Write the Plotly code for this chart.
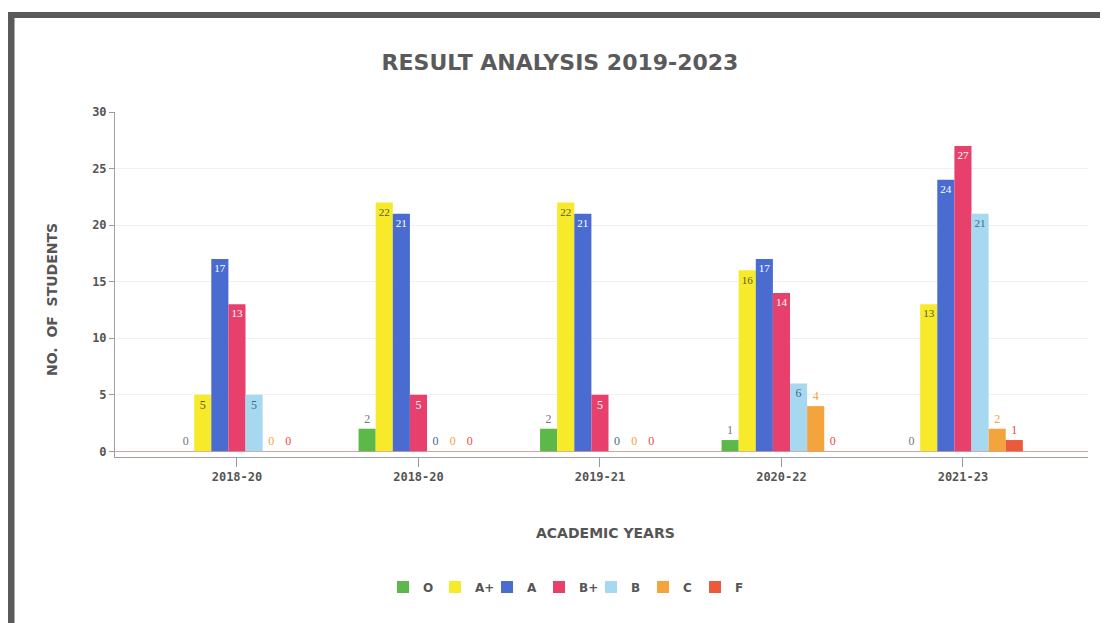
import plotly.graph_objects as go

years = ["2018-20", "2018-20", "2019-21", "2020-22", "2021-23"]
grades = ["O", "A+", "A", "B+", "B", "C", "F"]
val_O = [0, 2, 2, 1, 0]
val_Aplus = [5, 22, 22, 16, 13]
val_A = [17, 21, 21, 17, 24]
val_Bplus = [13, 5, 5, 14, 27]
val_B = [5, 0, 0, 6, 21]
val_C = [0, 0, 0, 4, 2]
val_F = [0, 0, 0, 0, 1]

series = [val_O, val_Aplus, val_A, val_Bplus, val_B, val_C, val_F]
colors = ["#5cb848", "#f7ea2a", "#4a6cd0", "#e8406c", "#a6d8f0", "#f3a43c", "#ec5a3c"]
text_colors = ["#777777", "#5a5a30", "#ffffff", "#ffffff", "#3f6a8a", "#f3a43c", "#ec4a3c"]

xpos = list(range(len(years)))

fig = go.Figure()
for name, vals, col, tcol in zip(grades, series, colors, text_colors):
    fig.add_trace(go.Bar(
        x=xpos, y=vals, name=name,
        marker=dict(color=col, line=dict(width=0)),
        text=[str(v) for v in vals],
        textposition=["inside" if v >= 5 else "outside" for v in vals],
        insidetextanchor="end",
        textangle=0,
        textfont=dict(family="Liberation Serif", size=12, color=tcol),
        cliponaxis=False,
        hoverinfo="skip",
    ))

# page body has an 8px margin, so the figure is offset by 8px
W, H = 1100, 615
L, R, T, B = 107, 20, 104, 166
PW = W - L - R
PH = H - T - B

fig.update_layout(
    width=W, height=H,
    paper_bgcolor="white", plot_bgcolor="white",
    barmode="group", bargap=0.34, bargroupgap=0.0,
    margin=dict(l=L, r=R, t=T, b=B),
    title=dict(text="<b>RESULT ANALYSIS 2019-2023</b>", x=(560 - 8) / W, xanchor="center",
               y=1 - (62 - 8) / H, yanchor="middle",
               font=dict(family="DejaVu Sans", size=22, color="#5a5a5a")),
    showlegend=True,
    legend=dict(orientation="h", x=(565 - 115) / PW, xanchor="center",
                y=(457 - 587) / PH, yanchor="middle",
                font=dict(family="DejaVu Sans", size=12, color="#555555", weight="bold"),
                itemwidth=30, entrywidth=7, entrywidthmode="pixels",
                traceorder="normal", bgcolor="rgba(0,0,0,0)"),
    font=dict(family="DejaVu Sans", color="#555555"),
)

fig.update_xaxes(
    range=[-0.672, 4.689],
    tickmode="array", tickvals=xpos, ticktext=years,
    tickfont=dict(family="DejaVu Sans Mono", size=12, color="#555555", weight="bold"),
    ticks="outside", ticklen=9, tickcolor="#999999",
    showline=True, linecolor="#a0a0a0", linewidth=1,
    showgrid=False, zeroline=False,
)
fig.update_yaxes(
    range=[-0.5, 30], tickvals=[0, 5, 10, 15, 20, 25, 30],
    tickfont=dict(family="DejaVu Sans Mono", size=12, color="#555555", weight="bold"),
    ticks="outside", ticklen=5, tickcolor="#999999",
    showline=True, linecolor="#a0a0a0", linewidth=1,
    showgrid=True, gridcolor="#f0f0f0", gridwidth=1,
    zeroline=True, zerolinecolor="#d8a0a0", zerolinewidth=1,
)

fig.add_annotation(text="<b>ACADEMIC YEARS</b>", xref="paper", yref="paper",
                   x=(605 - 115) / PW, y=(457 - 543) / PH, showarrow=False,
                   font=dict(family="DejaVu Sans", size=14, color="#555555"))
fig.add_annotation(text="<b>NO.  OF  STUDENTS</b>", xref="paper", yref="paper",
                   x=(42 - 115) / PW, y=(457 - 300) / PH, showarrow=False, textangle=-90,
                   font=dict(family="DejaVu Sans", size=14, color="#555555"))

# outer frame: thick left and top edges
fx0 = (11 - 115) / PW
fx1 = (1125 - 115) / PW
fy_top = (457 - 15) / PH
fy_bot = (457 - 630) / PH
fig.add_shape(type="line", xref="paper", yref="paper",
              x0=fx0, x1=fx0, y0=fy_bot, y1=fy_top + 3 / PH,
              line=dict(color="#5a5a5a", width=7), layer="below")
fig.add_shape(type="line", xref="paper", yref="paper",
              x0=fx0 - 3 / PW, x1=fx1, y0=fy_top, y1=fy_top,
              line=dict(color="#5a5a5a", width=6), layer="below")

fig.write_html("out.html")
